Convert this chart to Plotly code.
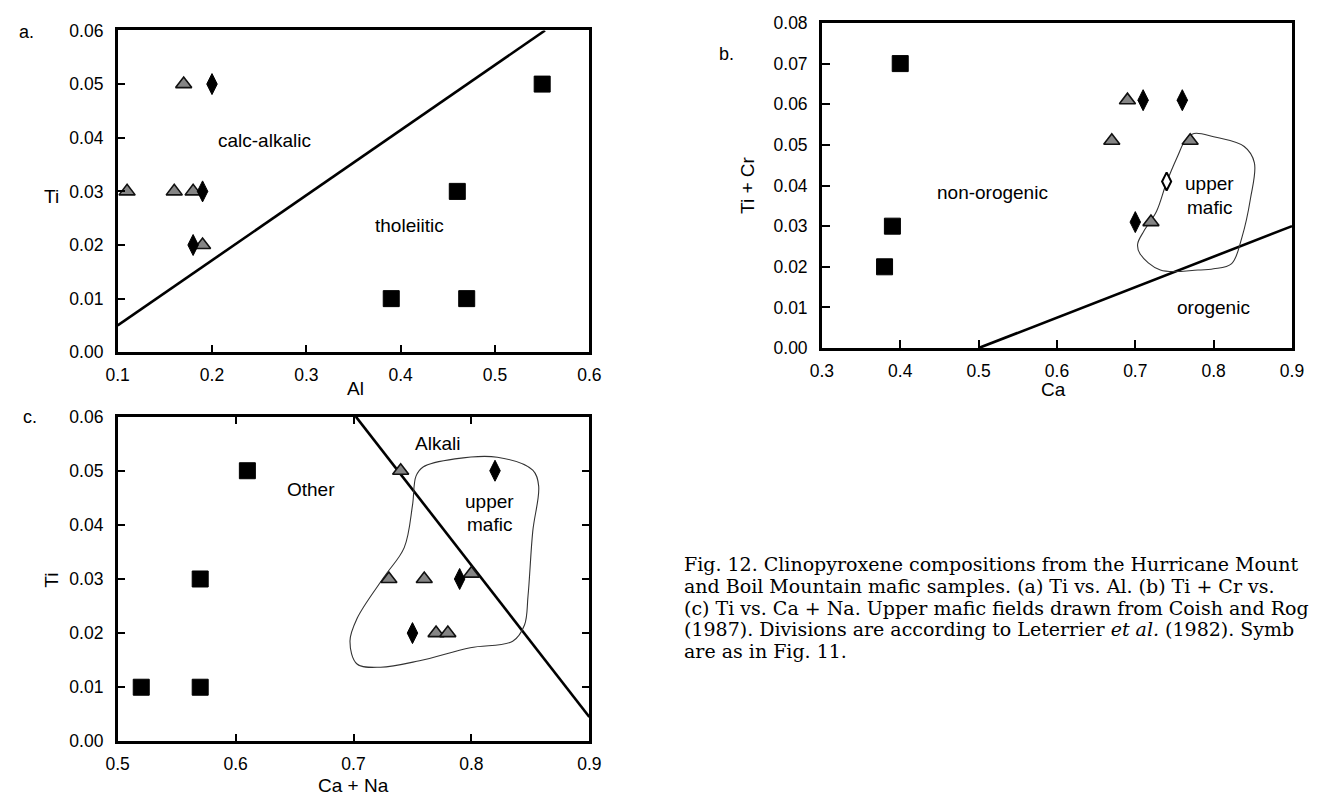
import plotly.graph_objects as go

W, H = 1326, 804

# ---------------- data ----------------
# Panel a: Ti vs Al
a_tri_x = [0.11, 0.16, 0.17, 0.18, 0.19]
a_tri_y = [0.030, 0.030, 0.050, 0.030, 0.020]
a_dia_x = [0.20, 0.19, 0.18]
a_dia_y = [0.050, 0.030, 0.020]
a_sq_x = [0.39, 0.47, 0.46, 0.55]
a_sq_y = [0.010, 0.010, 0.030, 0.050]
a_line_x = [0.10, 0.553]
a_line_y = [0.005, 0.060]

# Panel b: Ti + Cr vs Ca
b_sq_x = [0.40, 0.39, 0.38]
b_sq_y = [0.070, 0.030, 0.020]
b_tri_x = [0.69, 0.67, 0.77, 0.72]
b_tri_y = [0.061, 0.051, 0.051, 0.031]
b_dia_x = [0.71, 0.76, 0.70]
b_dia_y = [0.061, 0.061, 0.031]
b_odia_x = [0.74]
b_odia_y = [0.041]
b_line_x = [0.50, 0.90]
b_line_y = [0.000, 0.030]
b_field_x = [0.775, 0.800, 0.839, 0.852, 0.847, 0.836, 0.823, 0.800, 0.780, 0.732,
             0.706, 0.703, 0.711, 0.727, 0.740, 0.754, 0.764, 0.775]
b_field_y = [0.0528, 0.0520, 0.0496, 0.0456, 0.0368, 0.0272, 0.0208, 0.0195, 0.0192, 0.0192,
             0.0232, 0.0256, 0.0288, 0.0336, 0.0408, 0.0472, 0.0512, 0.0528]

# Panel c: Ti vs Ca + Na
c_sq_x = [0.52, 0.57, 0.57, 0.61]
c_sq_y = [0.010, 0.010, 0.030, 0.050]
c_tri_x = [0.74, 0.73, 0.76, 0.80, 0.77, 0.78]
c_tri_y = [0.050, 0.030, 0.030, 0.031, 0.020, 0.020]
c_dia_x = [0.82, 0.79, 0.75]
c_dia_y = [0.050, 0.030, 0.020]
c_line_x = [0.702, 0.90]
c_line_y = [0.060, 0.0045]
c_field_x = [0.759, 0.786, 0.822, 0.852, 0.857, 0.852, 0.848, 0.845, 0.835, 0.799,
             0.756, 0.723, 0.703, 0.697, 0.703, 0.726, 0.743, 0.750, 0.753, 0.759]
c_field_y = [0.0507, 0.0522, 0.0525, 0.0501, 0.0472, 0.0388, 0.0269, 0.0215, 0.0185, 0.0173,
             0.0149, 0.0137, 0.0143, 0.0185, 0.0227, 0.0304, 0.0358, 0.0436, 0.0490, 0.0507]

# caption as visible in the reference (cut at the right edge there)
caption_lines = [
    "Fig. 12. Clinopyroxene compositions from the Hurricane Mount",
    "and Boil Mountain mafic samples. (a) Ti vs. Al. (b) Ti + Cr vs.",
    "(c) Ti vs. Ca + Na. Upper mafic fields drawn from Coish and Rog",
    "(1987). Divisions are according to Leterrier <i>et al.</i> (1982). Symb",
    "are as in Fig. 11.",
]

# ---------------- styles ----------------
SANS = "Liberation Sans, Arial, sans-serif"
SERIF = "DejaVu Serif, Liberation Serif, serif"
sq_m = dict(symbol="square", size=16, color="black", line=dict(color="black", width=1))
dia_m = dict(symbol="diamond-tall", size=15, color="black", line=dict(color="black", width=1))
odia_m = dict(symbol="diamond-tall", size=13, color="white", line=dict(color="black", width=2))
tri_m = dict(symbol="triangle-up", size=14, color="#858585", line=dict(color="#111111", width=1.6))

fig = go.Figure()

def pts(x, y, m, ax):
    fig.add_trace(go.Scatter(x=x, y=y, mode="markers", marker=m, xaxis="x" + ax, yaxis="y" + ax,
                             showlegend=False, hoverinfo="skip"))

def line(x, y, ax, w=2.6, col="black", spline=False):
    fig.add_trace(go.Scatter(x=x, y=y, mode="lines", xaxis="x" + ax, yaxis="y" + ax,
                             line=dict(color=col, width=w, shape="spline" if spline else "linear",
                                       smoothing=1.0),
                             showlegend=False, hoverinfo="skip"))

# panel a
line(a_line_x, a_line_y, "")
pts(a_tri_x, a_tri_y, tri_m, "")
pts(a_dia_x, a_dia_y, dia_m, "")
pts(a_sq_x, a_sq_y, sq_m, "")
# panel b
line(b_line_x, b_line_y, "2")
line(b_field_x, b_field_y, "2", w=1.1, col="#333333", spline=True)
pts(b_sq_x, b_sq_y, sq_m, "2")
pts(b_tri_x, b_tri_y, tri_m, "2")
pts(b_dia_x, b_dia_y, dia_m, "2")
pts(b_odia_x, b_odia_y, odia_m, "2")
# panel c
line(c_line_x, c_line_y, "3")
line(c_field_x, c_field_y, "3", w=1.1, col="#333333", spline=True)
pts(c_sq_x, c_sq_y, sq_m, "3")
pts(c_tri_x, c_tri_y, tri_m, "3")
pts(c_dia_x, c_dia_y, dia_m, "3")

def px(x):
    return x / W

def py(y):
    return 1 - y / H

def xax(dom, rng, anchor, mirror):
    return dict(domain=dom, range=rng, dtick=0.1, tickformat=".1f", showgrid=False, zeroline=False,
                showline=True, linecolor="black", linewidth=2.5, mirror=mirror, ticks="inside",
                ticklen=8, tickwidth=2, tickcolor="black", anchor=anchor,
                tickfont=dict(family=SANS, size=17.5, color="black"), ticklabelstandoff=5)

def yax(dom, rng, anchor, mirror):
    return dict(domain=dom, range=rng, dtick=0.01, tickformat=".2f", showgrid=False, zeroline=False,
                showline=True, linecolor="black", linewidth=2.5, mirror=mirror, ticks="inside",
                ticklen=8, tickwidth=2, tickcolor="black", anchor=anchor,
                tickfont=dict(family=SANS, size=17.5, color="black"), ticklabelstandoff=8)

ann = []
def txt(x, y, t, size=19, ref="", angle=0, font=SANS, xanchor="center", yanchor="middle"):
    d = dict(x=x, y=y, text=t, showarrow=False, textangle=angle, xanchor=xanchor, yanchor=yanchor,
             borderpad=0, font=dict(family=font, size=size, color="black"))
    if ref == "paper":
        d.update(xref="paper", yref="paper")
    else:
        d.update(xref="x" + ref, yref="y" + ref)
    ann.append(d)

# region labels
txt(0.256, 0.0394, "calc-alkalic", ref="")
txt(0.409, 0.0237, "tholeiitic", ref="")
txt(0.518, 0.0383, "non-orogenic", ref="2")
txt(0.795, 0.0405, "upper", ref="2")
txt(0.795, 0.0347, "mafic", ref="2")
txt(0.800, 0.0100, "orogenic", ref="2")
txt(0.771, 0.0550, "Alkali", ref="3")
txt(0.664, 0.0466, "Other", ref="3")
txt(0.815, 0.0444, "upper", ref="3")
txt(0.815, 0.0400, "mafic", ref="3")

# panel letters and axis titles
txt(px(15), py(23), "a.", size=18, ref="paper")
txt(px(728), py(45), "b.", size=18, ref="paper")
txt(px(18), py(417), "c.", size=18, ref="paper")
txt(px(40), py(191), "Ti", ref="paper")
txt(px(350), py(388), "Al", ref="paper")
txt(px(749), py(180), "Ti + Cr", ref="paper", angle=-90)
txt(px(1061), py(389), "Ca", ref="paper")
txt(px(40), py(585), "Ti", ref="paper", angle=-90)
txt(px(348), py(795), "Ca + Na", ref="paper")

# caption
for i, ln in enumerate(caption_lines):
    txt(px(683), py(568 + i * 22.4), ln, size=19, ref="paper", font=SERIF, xanchor="left")

fig.update_layout(
    width=W, height=H, margin=dict(l=0, r=0, t=0, b=0),
    paper_bgcolor="white", plot_bgcolor="white",
    xaxis=xax([107.6 / W, 588 / W], [0.1, 0.6], "y", True),
    yaxis=yax([py(351), py(21)], [0, 0.06], "x", True),
    xaxis2=xax([824.8 / W, 1303.6 / W], [0.3, 0.9], "y2", True),
    yaxis2=yax([py(346.7), py(13.3)], [0, 0.08], "x2", True),
    xaxis3=xax([107.6 / W, 588 / W], [0.5, 0.9], "y3", "ticks"),
    yaxis3=yax([py(750), py(417)], [0, 0.06], "x3", "ticks"),
    annotations=ann,
)

fig.write_html("out.html")
